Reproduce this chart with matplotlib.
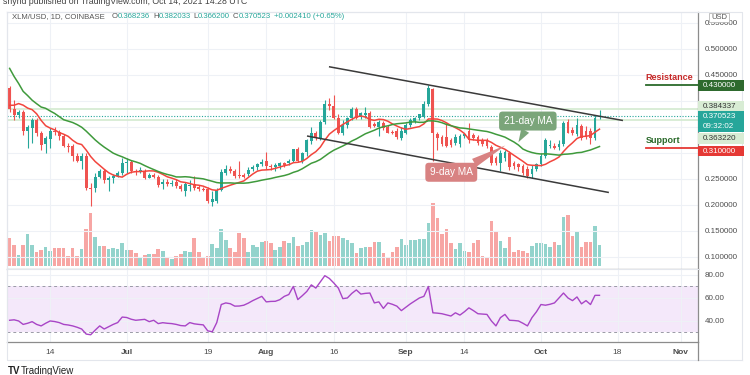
import matplotlib
matplotlib.use("Agg")
import matplotlib.pyplot as plt
import matplotlib.dates as mdates
from matplotlib.patches import Rectangle
from matplotlib.ticker import FixedLocator, FixedFormatter
import pandas as pd

plt.rcParams['font.family'] = ['Liberation Sans', 'DejaVu Sans']

# daily XLM/USD candles, Jun 5 - Oct 14 2021
dates = pd.date_range("2021-06-05", "2021-10-14", freq="D")
# closes before the visible window (May 16 - Jun 4), only feed the moving averages
pre_closes = [0.70, 0.66, 0.66, 0.52, 0.55, 0.48, 0.45, 0.38, 0.45, 0.44,
              0.46, 0.44, 0.37, 0.35, 0.37, 0.40, 0.39, 0.41, 0.43, 0.42]

opens = [.424, .384, .372, .378, .343, .347, .363, .338, .318, .326,
         .343, .341, .332, .314, .314, .295, .285, .295, .233, .233,
         .254, .266, .247, .251, .256, .262, .281, .283, .266, .266,
         .266, .252, .258, .254, .241, .245, .241, .245, .237, .227,
         .237, .241, .235, .231, .231, .206, .208, .229, .262, .270,
         .266, .258, .258, .260, .270, .272, .278, .285, .274, .272,
         .274, .280, .280, .285, .307, .285, .301, .322, .338, .328,
         .359, .395, .390, .368, .339, .353, .367, .384, .370, .372,
         .376, .355, .349, .357, .349, .341, .343, .328, .339, .353,
         .361, .367, .370, .395, .422, .336, .330, .330, .324, .320,
         .318, .332, .343, .334, .330, .324, .324, .312, .291, .280,
         .291, .299, .280, .278, .274, .270, .260, .270, .278, .295,
         .314, .314, .312, .318, .359, .345, .336, .351, .343, .343,
         .328, .368236]
highs = [.428, .401, .382, .382, .353, .367, .367, .343, .332, .347,
         .349, .345, .336, .320, .318, .299, .299, .299, .243, .262,
         .270, .270, .256, .260, .266, .291, .291, .287, .270, .272,
         .270, .262, .262, .258, .249, .249, .247, .249, .241, .245,
         .247, .256, .239, .235, .235, .227, .233, .270, .276, .274,
         .270, .285, .262, .272, .276, .281, .289, .301, .278, .280,
         .283, .283, .289, .307, .312, .301, .326, .349, .343, .363,
         .401, .405, .411, .374, .363, .370, .388, .388, .378, .388,
         .380, .359, .363, .361, .353, .345, .347, .349, .357, .367,
         .370, .374, .399, .430, .424, .341, .334, .357, .328, .336,
         .336, .339, .357, .338, .334, .328, .328, .316, .295, .305,
         .305, .303, .285, .281, .278, .274, .276, .280, .299, .328,
         .324, .320, .324, .361, .366, .349, .367, .355, .351, .347,
         .372, .382033]
lows = [.378, .363, .368, .334, .309, .320, .332, .305, .299, .309,
        .334, .324, .311, .301, .285, .282, .270, .229, .198, .224,
        .251, .243, .227, .243, .254, .258, .262, .262, .258, .262,
        .249, .251, .251, .235, .231, .237, .237, .233, .227, .218,
        .227, .229, .227, .226, .204, .198, .204, .226, .258, .262,
        .252, .252, .251, .256, .266, .268, .274, .270, .268, .266,
        .270, .272, .276, .282, .282, .280, .295, .318, .324, .324,
        .355, .382, .365, .336, .334, .347, .363, .365, .365, .368,
        .347, .349, .332, .345, .338, .336, .326, .324, .336, .349,
        .357, .363, .367, .391, .285, .305, .314, .312, .312, .316,
        .312, .328, .320, .324, .316, .314, .309, .276, .276, .266,
        .285, .268, .270, .266, .258, .252, .251, .266, .274, .291,
        .310, .307, .305, .314, .338, .334, .332, .324, .326, .318,
        .324, .3662]
closes = [.384, .372, .378, .343, .349, .363, .338, .316, .328, .343,
          .341, .332, .314, .312, .295, .285, .295, .233, .231, .254,
          .266, .247, .251, .256, .262, .281, .283, .266, .264, .268,
          .252, .258, .254, .239, .245, .241, .243, .237, .231, .241,
          .239, .233, .231, .229, .208, .212, .229, .264, .270, .266,
          .256, .256, .254, .268, .272, .278, .283, .274, .272, .276,
          .280, .276, .285, .307, .285, .299, .324, .338, .328, .359,
          .395, .390, .368, .339, .353, .367, .384, .368, .376, .376,
          .349, .351, .359, .347, .339, .338, .330, .343, .353, .363,
          .368, .374, .395, .424, .338, .328, .318, .314, .316, .330,
          .332, .336, .324, .328, .320, .318, .314, .280, .280, .299,
          .301, .272, .274, .272, .262, .256, .270, .278, .295, .324,
          .316, .310, .318, .357, .339, .338, .353, .328, .330, .328,
          .368113, .370523]
# volume, relative units
volume = [28, 21, 11, 21, 32, 21, 14, 16, 19, 15, 18, 18, 18, 10, 18, 10, 17, 37, 53, 29,
          20, 20, 17, 18, 17, 23, 16, 16, 13, 9, 11, 12, 12, 17, 15, 9, 7, 10, 12, 15,
          14, 28, 14, 9, 10, 22, 18, 37, 26, 18, 14, 33, 28, 14, 21, 19, 24, 25, 23, 16,
          19, 25, 23, 29, 20, 21, 24, 36, 34, 31, 33, 25, 30, 30, 28, 26, 23, 13, 18, 19,
          19, 24, 24, 13, 9, 14, 19, 27, 21, 26, 26, 27, 27, 43, 63, 48, 32, 37, 23, 17,
          23, 15, 14, 23, 26, 10, 9, 45, 34, 25, 18, 29, 14, 16, 15, 13, 20, 23, 23, 22,
          19, 24, 21, 49, 51, 30, 34, 19, 24, 24, 40, 21]
rsi = [40.6, 41, 40, 37, 38, 39.4, 37, 35.7, 38, 40,
       39.5, 38.6, 37, 36.5, 35.7, 34.5, 33, 28.6, 28, 32,
       35.7, 33, 35, 37, 38.6, 43.4, 43, 41.5, 40.6, 41,
       41.4, 39.4, 40.6, 37.7, 38.5, 38, 37.7, 37, 36, 35.7,
       38.6, 37.5, 37, 36.6, 31.4, 30.6, 38.6, 54.3, 55.7, 55,
       52.9, 53, 53.7, 55.5, 57.7, 59.5, 61.4, 56.6, 57, 57.1,
       58.5, 61.4, 63, 70, 58.6, 62, 65.7, 71.4, 68.6, 74,
       79.4, 77, 73, 68.6, 59.4, 60, 64, 67, 63.4, 64,
       64.3, 55.7, 56.6, 50.9, 55.7, 54.5, 52.9, 49, 52, 54.9,
       57.5, 60, 61.4, 70, 47.1, 46.8, 46.3, 45.3, 44.3, 47.1,
       45.1, 48, 51.4, 49, 46.3, 46, 45.7, 40, 35.7, 42.9,
       45.7, 40.6, 40.4, 40, 38, 35.7, 42.9, 48, 54.3, 53.7,
       54.5, 55.7, 60, 64.3, 60, 57.7, 60.9, 54.9, 57.7, 54.3,
       62.3, 62.3]

resistance = 0.43
support = 0.31
level_hi = 0.384337
level_lo = 0.363220
price_ticks = [0.10, 0.15, 0.20, 0.25, 0.30, 0.35, 0.40, 0.45, 0.50, 0.55]
price_labels = ['0.100000', '0.150000', '0.200000', '0.250000', '', '', '', '0.450000', '0.500000', '0.550000']
date_ticks = pd.to_datetime(['2021-06-14', '2021-07-01', '2021-07-19', '2021-08-01', '2021-08-16',
                             '2021-09-01', '2021-09-14', '2021-10-01', '2021-10-18', '2021-11-01'])
date_labels = ['14', 'Jul', '19', 'Aug', '16', 'Sep', '14', 'Oct', '18', 'Nov']

UP, DOWN = '#26a69a', '#ef5350'
GRID = '#eef1f6'
W, H = 750, 375

all_closes = pd.Series(pre_closes + closes)
ma9 = all_closes.rolling(9).mean().iloc[len(pre_closes):].values
ma21 = all_closes.rolling(21).mean().iloc[len(pre_closes):].values

x = mdates.date2num(dates)
up = [c >= o for o, c in zip(opens, closes)]
cols = [UP if u else DOWN for u in up]
vcols = ['#93d3cc' if u else '#f7a6a4' for u in up]


def rect(l, t, r, b):
    return [l / W, 1 - b / H, (r - l) / W, (b - t) / H]


fig = plt.figure(figsize=(7.5, 3.75), dpi=100)
vol_ax = fig.add_axes(rect(7, 12, 698, 269))
ax = fig.add_axes(rect(7, 12, 698, 269), sharex=vol_ax)
rsi_ax = fig.add_axes(rect(7, 269, 698, 342), sharex=vol_ax)

xmin, xmax = pd.Timestamp('2021-06-04 10:00'), pd.Timestamp('2021-11-04 21:00')

# volume underneath
vol_ax.bar(x, volume, width=0.8, color=vcols, zorder=1)
vol_ax.set_ylim(-3, 254)
vol_ax.set_xlim(xmin, xmax)
vol_ax.axis('off')

# price panel
ax.patch.set_visible(False)
ax.set_axisbelow(True)
ax.vlines(x, lows, highs, color=cols, lw=0.8, zorder=3)
ax.bar(x, [max(abs(c - o), 0.0018) for o, c in zip(opens, closes)],
       bottom=[min(o, c) for o, c in zip(opens, closes)], width=0.62, color=cols, zorder=3)
ax.plot(x, ma9, color='#f2453d', lw=1.1, zorder=4)
ax.plot(x, ma21, color='#3f9a3c', lw=1.1, zorder=4)

ax.axhline(level_hi, color='#d3ead0', lw=1.2, zorder=2)
ax.axhline(level_lo, color='#d3ead0', lw=1.2, zorder=2)
ax.axhline(closes[-1], color=UP, lw=0.8, ls=(0, (1, 1.5)), zorder=2)

# channel
ax.plot(pd.to_datetime(['2021-08-15 02:00', '2021-10-19 01:00']), [0.4655, 0.3626], color='#3a3a3a', lw=1.1, zorder=5)
ax.plot(pd.to_datetime(['2021-08-10 05:00', '2021-10-15 22:00']), [0.3323, 0.2242], color='#3a3a3a', lw=1.1, zorder=5)

# resistance / support
lv0 = pd.Timestamp('2021-10-24 06:00')
ax.plot([lv0, xmax], [resistance, resistance], color='#2b6a2b', lw=1.3, zorder=5)
ax.plot([lv0, xmax], [support, support], color='#e53935', lw=1.3, zorder=5)
ax.text(lv0, resistance + 0.006, 'Resistance', color='#c62828', fontsize=6.5, fontweight='bold', va='bottom', ha='left')
ax.text(lv0, support + 0.006, 'Support', color='#2b6a2b', fontsize=6.5, fontweight='bold', va='bottom', ha='left')

# callouts
ax.annotate('21-day MA', xy=(pd.Timestamp('2021-09-26'), 0.3207), xytext=(pd.Timestamp('2021-09-28 02:00'), 0.3613),
            ha='center', va='center', color='white', fontsize=7.2, zorder=6,
            bbox=dict(boxstyle='round,pad=0.45,rounding_size=0.35', fc='#7ba57a', ec='none'),
            arrowprops=dict(arrowstyle='wedge,tail_width=0.9,shrink_factor=0.5', fc='#7ba57a', ec='none',
                            relpos=(0.5, 0.0), shrinkA=0, shrinkB=0))
ax.annotate('9-day MA', xy=(pd.Timestamp('2021-09-23 02:00'), 0.3143), xytext=(pd.Timestamp('2021-09-11 02:00'), 0.2628),
            ha='center', va='center', color='white', fontsize=7.2, zorder=6,
            bbox=dict(boxstyle='round,pad=0.45,rounding_size=0.35', fc='#d88282', ec='none'),
            arrowprops=dict(arrowstyle='wedge,tail_width=0.9,shrink_factor=0.5', fc='#d88282', ec='none',
                            relpos=(0.85, 1.0), shrinkA=0, shrinkB=0))

ax.set_xlim(xmin, xmax)
ax.set_ylim(0.0768, 0.571)
ax.yaxis.tick_right()
ax.yaxis.set_major_locator(FixedLocator(price_ticks))
ax.yaxis.set_major_formatter(FixedFormatter(price_labels))
ax.tick_params(axis='y', length=0, pad=5, labelsize=5.8, labelcolor='#4c4c4c')
ax.tick_params(axis='x', length=0, labelbottom=False)
ax.set_xticks(date_ticks)
ax.grid(color=GRID, lw=0.8)

# RSI panel
rsi_ax.axhspan(30, 70, color='#f4e8fa', lw=0, zorder=0)
rsi_ax.axhline(70, color='#9a9aa6', lw=0.7, ls=(0, (3, 3)), zorder=1)
rsi_ax.axhline(30, color='#9a9aa6', lw=0.7, ls=(0, (3, 3)), zorder=1)
rsi_ax.plot(x, rsi, color='#a845c6', lw=1.0, zorder=3)
rsi_ax.set_ylim(21.7, 85.2)
rsi_ax.yaxis.tick_right()
rsi_ax.set_yticks([40, 60, 80])
rsi_ax.set_yticklabels(['40.00', '60.00', '80.00'])
rsi_ax.set_axisbelow(True)
rsi_ax.grid(color=GRID, lw=0.8)
rsi_ax.set_xticks(date_ticks)
rsi_ax.set_xticklabels(date_labels)
rsi_ax.tick_params(axis='y', length=0, pad=5, labelsize=5.8, labelcolor='#4c4c4c')
rsi_ax.tick_params(axis='x', length=0, pad=5, labelsize=6, labelcolor='#4c4c4c')
for lab in rsi_ax.get_xticklabels():
    if lab.get_text().isalpha():
        lab.set_fontweight('bold')
rsi_ax.set_xlim(xmin, xmax)

for a in (ax, rsi_ax):
    for side in ('top', 'left'):
        a.spines[side].set_color('#e3e6ec')
        a.spines[side].set_linewidth(0.8)
    for side in ('right', 'bottom'):
        a.spines[side].set_color('#8c8c8c')
        a.spines[side].set_linewidth(0.9)

# overlay in pixel coordinates for tags and header
ov = fig.add_axes([0, 0, 1, 1])
ov.set_xlim(0, W)
ov.set_ylim(H, 0)
ov.axis('off')


def ypix(price):
    return H - ax.transData.transform((x[0], price))[1]


def tag(yc, label, fc, tc, h=10.5):
    ov.add_patch(Rectangle((698, yc - h / 2), 46, h, fc=fc, ec='none', zorder=5))
    ov.text(703, yc, label, color=tc, fontsize=5.8, va='center', ha='left', zorder=6)


tag(ypix(resistance), f'{resistance:.6f}', '#2e6a2e', 'white')
tag(ypix(level_hi) - 2.5, f'{level_hi:.6f}', '#d8ecd4', '#333333')
ov.add_patch(Rectangle((698, ypix(closes[-1]) - 5.5), 46, 21, fc=UP, ec='none', zorder=5))
ov.text(703, ypix(closes[-1]), f'{closes[-1]:.6f}', color='white', fontsize=5.8, va='center', zorder=6)
ov.text(703, ypix(closes[-1]) + 10, '09:32:02', color='white', fontsize=5.8, va='center', zorder=6)
tag(ypix(level_lo) + 18.5, f'{level_lo:.6f}', '#d8ecd4', '#333333')
tag(ypix(support) + 3.5, f'{support:.6f}', '#e53935', 'white')
ov.add_patch(Rectangle((709, 13), 20, 9, fc='white', ec='#b8b8b8', lw=0.6, zorder=5))
ov.text(719, 17.5, 'USD', fontsize=5.5, color='#555555', ha='center', va='center', zorder=6)

# outer frame
ov.plot([7, 742, 742], [12, 12, 360], color='#e3e6ec', lw=0.8)
ov.plot([7, 7, 742], [12, 360, 360], color='#e3e6ec', lw=0.8)
ov.plot([698, 698], [342, 360], color='#8c8c8c', lw=0.9)

# header line
renderer = fig.canvas.get_renderer()
chg = closes[-1] - closes[-2]
pieces = [('XLM/USD, 1D, COINBASE', '#555555', 7), ('O', '#555555', 0), (f'{opens[-1]:.6f}', UP, 3),
          ('H', '#555555', 0), (f'{highs[-1]:.6f}', UP, 3), ('L', '#555555', 0), (f'{lows[-1]:.6f}', UP, 3),
          ('C', '#555555', 0), (f'{closes[-1]:.6f}', UP, 4),
          (f'+{chg:.6f} (+{chg / closes[-2] * 100:.2f}%)', UP, 0)]
xc = 12
for s, c, gap in pieces:
    t = ov.text(xc, 16.5, s, color=c, fontsize=5.6, va='center', ha='left')
    xc += t.get_window_extent(renderer).width + gap

ov.text(3, 2, 'shynd published on TradingView.com, Oct 14, 2021 14:28 UTC', color='#444444',
        fontsize=6.3, va='center', ha='left')
ov.text(8, 371, 'TV', color='#222222', fontsize=7, fontweight='bold', va='center', ha='left')
ov.text(21, 371, 'TradingView', color='#222222', fontsize=7, va='center', ha='left')

fig.savefig('out.png', dpi=100, facecolor='white')
